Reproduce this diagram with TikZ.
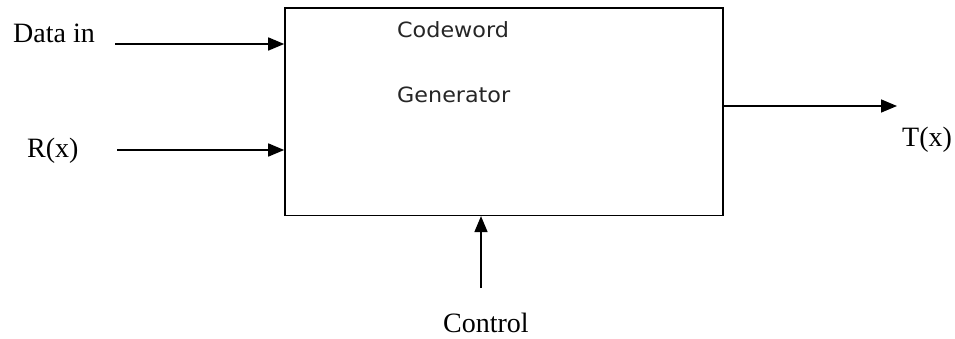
\documentclass[tikz,border=0pt]{standalone}
\usepackage{fontspec}
\setmainfont{Liberation Serif}
\newfontfamily\boxfont[FakeStretch=1.06]{DejaVu Sans}
\usetikzlibrary{arrows.meta}
\tikzset{
  wire/.style={line width=1.6pt, -{Triangle[length=16pt,width=13pt]}},
  sig/.style={font=\fontsize{28}{32}\selectfont, inner sep=0pt},
  inner/.style={font=\boxfont\fontsize{21}{24}\selectfont, text=black!85, inner sep=0pt, anchor=base west},
  block/.style={draw, line width=1.6pt, minimum width=438pt, minimum height=207pt, inner sep=0pt}
}
\begin{document}
\begin{tikzpicture}[x=1pt,y=-1pt]
  \useasboundingbox (0,0) rectangle (955,339);
  % the generator block
  \node[block] (gen) at (504,111.8) {};
  \node[inner] (t1) at (397,38) {Codeword};
  \node[inner] (t2) at (397,103) {Generator};
  % signal labels
  \node[sig, anchor=base west] (din) at (13,43) {Data in};
  \node[sig, anchor=base west] (rx) at (27,158) {R(x)};
  \node[sig, anchor=base west] (tx) at (902,147) {T(x)};
  \node[sig, anchor=base west] (ctl) at (443,332) {Control};
  % free ends of the connectors
  \coordinate (dinS) at (115,44);
  \coordinate (rxS) at (117,150);
  \coordinate (txE) at (897,106);
  \coordinate (ctlS) at (481,288);
  % connectors
  \draw[wire] (dinS) -- (gen.west |- dinS);
  \draw[wire] (rxS) -- (gen.west |- rxS);
  \draw[wire] (gen.east |- txE) -- (txE);
  \draw[wire] (ctlS) -- (gen.south -| ctlS);
\end{tikzpicture}
\end{document}
